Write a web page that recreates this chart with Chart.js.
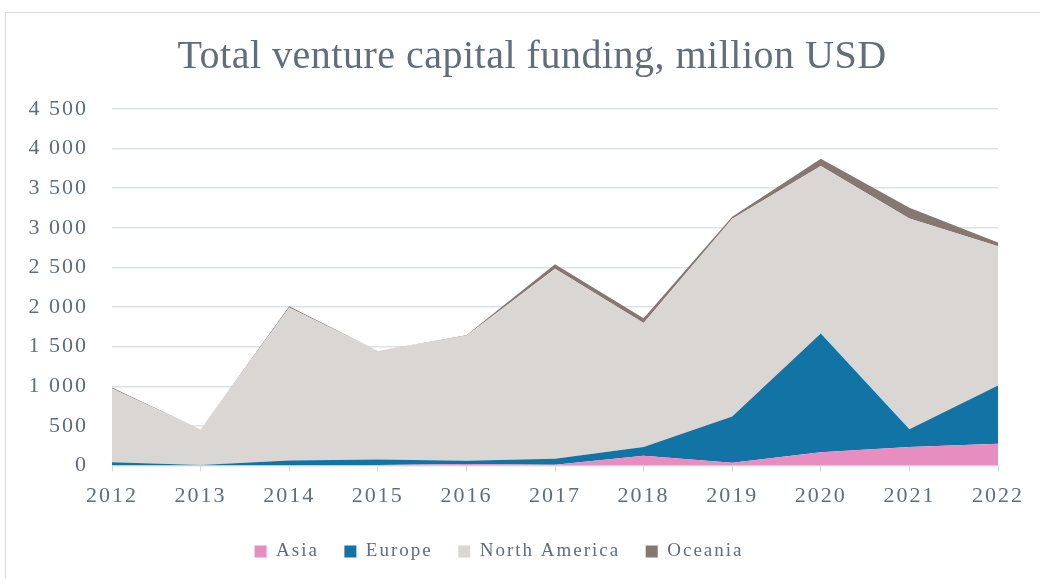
<!DOCTYPE html>
<html lang="en">
<head>
    <meta charset="UTF-8">
    <title>Total venture capital funding</title>
    <script src="https://cdn.jsdelivr.net/npm/chart.js@4.4.1/dist/chart.umd.min.js"></script>
    <style>
        body { margin: 0; background: #fff; }
        #frame {
            position: absolute; left: 5px; top: 12px;
            width: 1040px; height: 600px;
            border: 1px solid #d9dde0;
        }
        #title {
            position: absolute; left: 0; top: 32px; width: 1064px;
            text-align: center;
            font-family: 'Liberation Serif', 'DejaVu Serif', serif;
            font-size: 40px; line-height: 46px;
            letter-spacing: 0.5px;
            color: #5f6e7a;
        }
        #wrap { position: absolute; left: 0; top: 0; width: 1040px; height: 579px; }
    </style>
</head>
<body>
<div id="frame"></div>
<div id="wrap"><canvas id="chart" width="1040" height="579"></canvas></div>
<div id="title">Total venture capital funding, million USD</div>

<script>
    // values, million USD
    const years = ['2012', '2013', '2014', '2015', '2016', '2017', '2018', '2019', '2020', '2021', '2022'];
    const asia = [0, 0, 0, 5, 20, 10, 122, 35, 168, 232, 274];
    const europe = [42, 5, 63, 71, 40, 75, 110, 585, 1497, 227, 737];
    const northAmerica = [929, 450, 1932, 1369, 1578, 2400, 1566, 2495, 2115, 2660, 1757];
    const oceania = [15, 0, 15, 0, 5, 55, 60, 25, 93, 134, 47];

    const textColor = '#5f6e7a';
    const serif = "'Liberation Serif', 'DejaVu Serif', serif";

    function area(label, data, color, fill) {
        return {
            label: label,
            data: data,
            backgroundColor: color,
            borderColor: color,
            borderWidth: 0,
            pointRadius: 0,
            tension: 0,
            fill: fill
        };
    }

    // wider letters like the original, and pull the legend back to centre
    const tweaks = {
        id: 'tweaks',
        beforeDraw(chart) { chart.ctx.letterSpacing = '2px'; },
        afterLayout(chart) {
            chart.legend.left -= 30;
            chart.legend.right -= 30;
        }
    };

    new Chart(document.getElementById('chart'), {
        type: 'line',
        data: {
            labels: years,
            datasets: [
                area('Asia', asia, '#e78dbf', 'origin'),
                area('Europe', europe, '#1273a5', '-1'),
                area('North America', northAmerica, '#dad6d4', '-1'),
                area('Oceania', oceania, '#857873', '-1')
            ]
        },
        options: {
            responsive: false,
            animation: false,
            layout: { padding: { top: 109, right: 42, bottom: 8, left: 0 } },
            plugins: {
                title: { display: false },
                legend: {
                    position: 'bottom',
                    labels: {
                        color: textColor,
                        font: { family: serif, size: 19 },
                        boxWidth: 12,
                        boxHeight: 12,
                        padding: 25.5
                    }
                },
                tooltip: { enabled: false }
            },
            scales: {
                x: {
                    grid: { display: true, drawOnChartArea: false, drawTicks: true, tickLength: 6, color: '#d5dadf' },
                    border: { color: '#d5dadf' },
                    ticks: { color: textColor, font: { family: serif, size: 22 }, padding: 12, maxRotation: 0 },
                    afterFit(scale) { scale.height = 51; }
                },
                y: {
                    stacked: true,
                    min: 0,
                    max: 4500,
                    grid: { color: '#dde2e6', lineWidth: 1.5, drawTicks: false },
                    border: { display: false },
                    ticks: {
                        stepSize: 500,
                        color: textColor,
                        font: { family: serif, size: 22 },
                        padding: 24,
                        callback: (v) => v >= 1000 ? Math.floor(v / 1000) + ' ' + String(v % 1000).padStart(3, '0') : String(v)
                    },
                    afterFit(scale) { scale.width = 112; }
                }
            }
        },
        plugins: [tweaks]
    });
</script>
</body>
</html>
